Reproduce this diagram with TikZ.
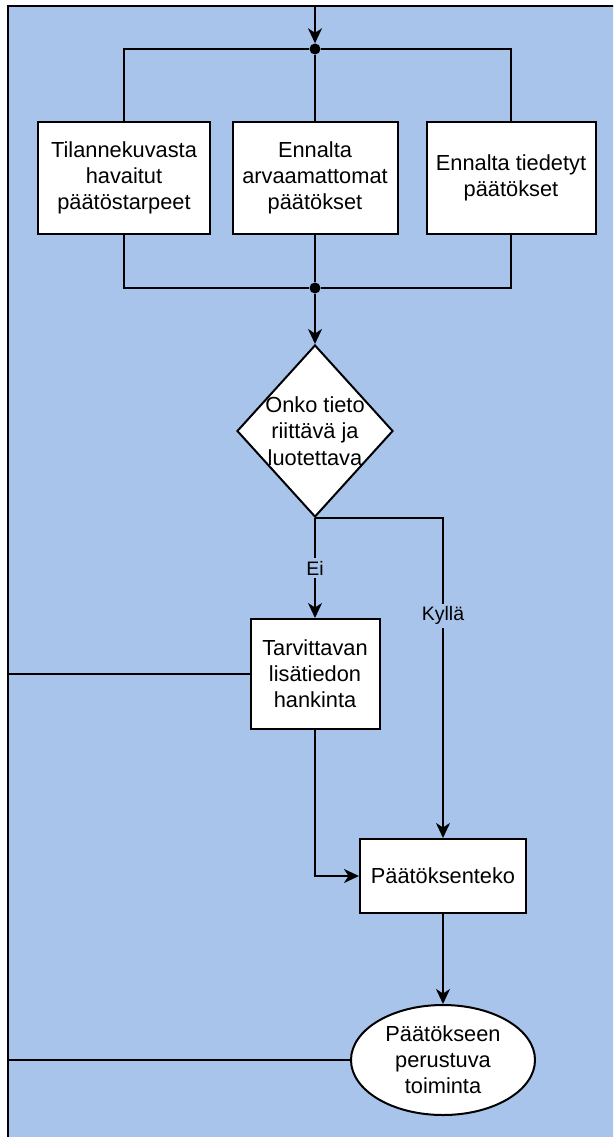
\documentclass[tikz,border=0pt]{standalone}
\usepackage{fontspec}
\setmainfont{Liberation Sans}
\usetikzlibrary{arrows.meta,shapes.geometric}
\definecolor{panel}{HTML}{A9C4EB}
\tikzset{
  flow/.style={line width=2pt, draw=black},
  arr/.style={flow, -{Stealth[length=15pt,width=14pt,inset=4.5pt]}},
  box/.style={draw, line width=2pt, fill=white, align=center, inner sep=0pt,
              font=\fontsize{21.8}{26}\selectfont},
  lbl/.style={fill=panel, inner sep=2.5pt, font=\fontsize{19.5}{22}\selectfont},
  junction/.style={circle, fill=black, inner sep=0pt, minimum size=11pt},
}
\begin{document}
\begin{tikzpicture}[x=1pt,y=-1pt]
\useasboundingbox (0,0) rectangle (613,1137);
\clip (0,0) rectangle (613,1137);

% swimlane panel
\draw[line width=2pt, fill=panel] (8,6) rectangle (700,1220);

% nodes
\coordinate (in) at (315,6);
\node[junction] (j1) at (315,49) {};
\node[box, minimum width=172pt, minimum height=112pt] (b1) at (124,178)
  {Tilannekuvasta\\havaitut\\päätöstarpeet};
\node[box, minimum width=165pt, minimum height=112pt] (b2) at (315,178)
  {Ennalta\\arvaamattomat\\päätökset};
\node[box, minimum width=169pt, minimum height=112pt] (b3) at (511,178)
  {Ennalta tiedetyt\\päätökset};
\node[junction] (j2) at (315,288) {};
\node[diamond, draw, line width=2pt, fill=white, inner sep=0pt,
      minimum width=156pt, minimum height=172pt] (dia) at (315,431) {};
\node[align=center, inner sep=0pt, font=\fontsize{21.8}{26.5}\selectfont]
  (diat) at (dia.center) {Onko tieto\\riittävä ja\\luotettava};
\node[box, minimum width=129pt, minimum height=110pt] (b4) at (315,674)
  {Tarvittavan\\lisätiedon\\hankinta};
\node[box, minimum width=166pt, minimum height=74pt] (b5) at (443,876)
  {Päätöksenteko};
\node[box, ellipse, minimum width=184pt, minimum height=110pt] (ell) at (443,1060)
  {Päätökseen\\perustuva\\toiminta};
\coordinate (L1) at (8,674);
\coordinate (L2) at (8,1060);

% connectors
\draw[arr] (in) -- (j1);
\draw[flow] (j1) -| (b1.north);
\draw[flow] (j1) -- (b2.north);
\draw[flow] (j1) -| (b3.north);
\draw[flow] (b1.south) |- (j2);
\draw[flow] (b2.south) -- (j2);
\draw[flow] (b3.south) |- (j2);
\draw[arr] (j2) -- (dia.north);
\draw[arr] (dia.south) -- node[lbl] (ei) {Ei} (b4.north);
\draw[arr] (dia.south) -| node[lbl, pos=0.653] (kylla) {Kyllä} (b5.north);
\draw[arr] (b4.south) |- (b5.west);
\draw[arr] (b5.south) -- (ell.north);
\draw[flow] (b4.west) -- (L1);
\draw[flow] (ell.west) -- (L2);
\end{tikzpicture}
\end{document}
